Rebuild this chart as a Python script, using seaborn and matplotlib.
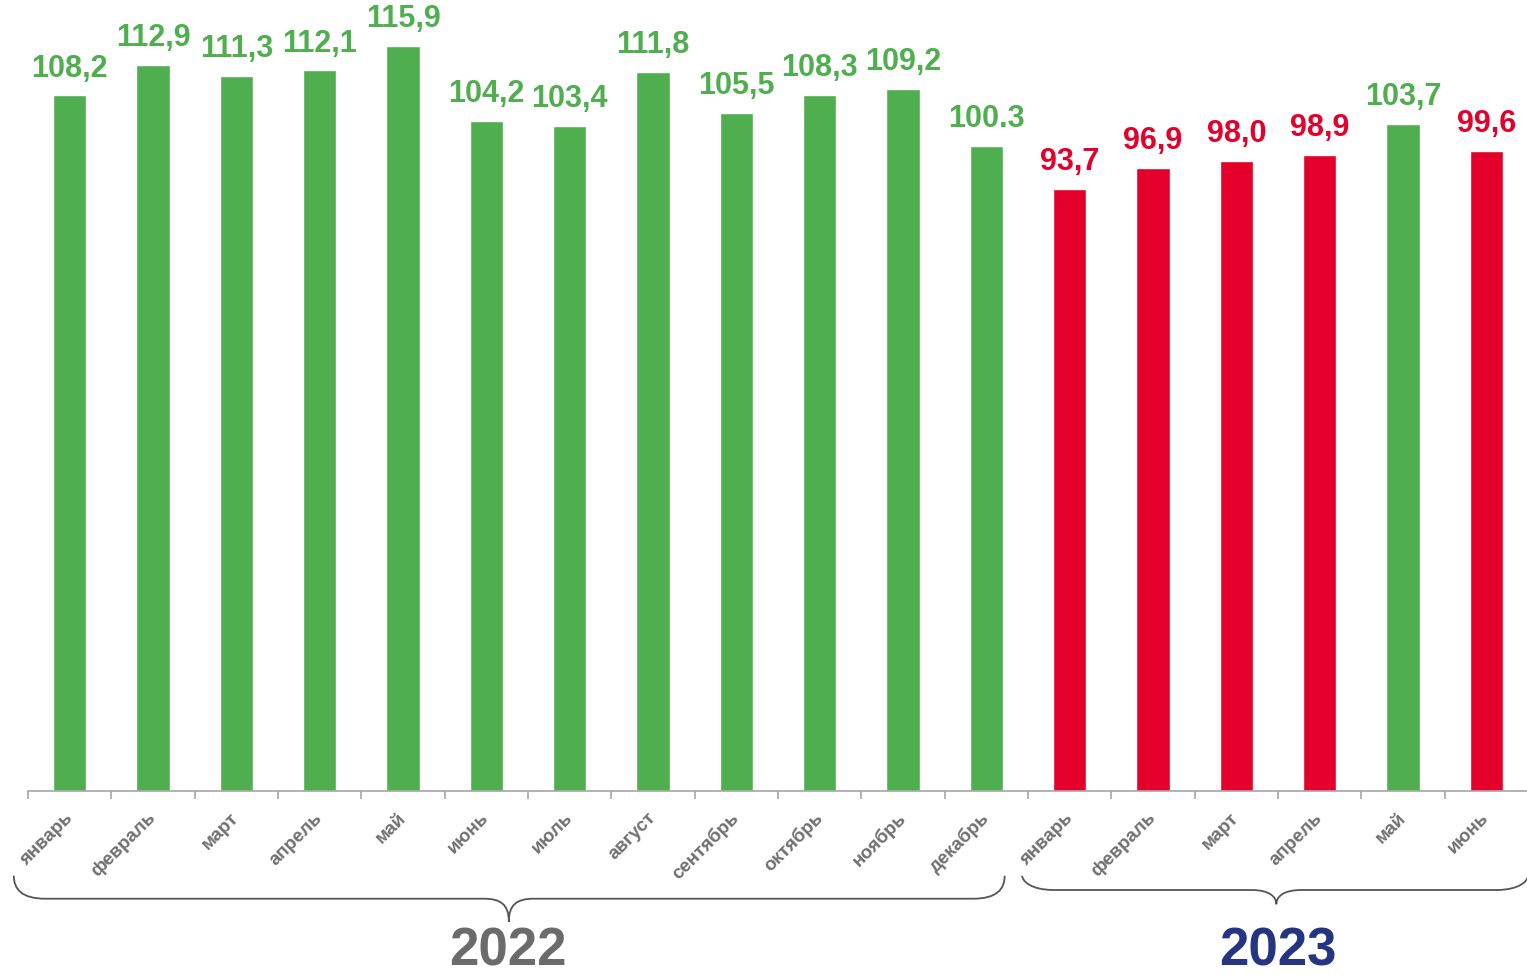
import matplotlib
matplotlib.use("Agg")
import matplotlib.pyplot as plt
import matplotlib.transforms as mtransforms
from matplotlib.path import Path
from matplotlib.patches import PathPatch
import numpy as np
import pandas as pd
import seaborn as sns

months = ["январь", "февраль", "март", "апрель", "май", "июнь", "июль", "август",
          "сентябрь", "октябрь", "ноябрь", "декабрь",
          "январь", "февраль", "март", "апрель", "май", "июнь"]
years = [2022] * 12 + [2023] * 6
values = [108.2, 112.9, 111.3, 112.1, 115.9, 104.2, 103.4, 111.8, 105.5, 108.3, 109.2, 100.3,
          93.7, 96.9, 98.0, 98.9, 103.7, 99.6]
value_labels = ["108,2", "112,9", "111,3", "112,1", "115,9", "104,2", "103,4", "111,8", "105,5",
                "108,3", "109,2", "100.3", "93,7", "96,9", "98,0", "98,9", "103,7", "99,6"]

GREEN = "#4faf4f"
RED = "#e4002b"
GRAY = "#707070"

sns.set_theme(style="white")
plt.rcParams["font.family"] = ["Liberation Sans", "DejaVu Sans"]

df = pd.DataFrame({"month": months, "year": years, "value": values})
df["key"] = df["month"] + " " + df["year"].astype(str)
colors = [GREEN if v >= 100 else RED for v in values]

fig = plt.figure(figsize=(15.27, 9.79), dpi=100)
ax = fig.add_axes([28 / 1527, 187 / 979, 1500 / 1527, 792 / 979])

sns.barplot(data=df, x="key", y="value", hue="key", palette=colors, dodge=False,
            width=0.4, legend=False, ax=ax, saturation=1)

ax.set_xlim(-0.5, len(values) - 0.5)
ax.set_ylim(0, 123.2)
ax.set_xlabel("")
ax.set_ylabel("")
ax.set_yticks([])
for s in ["left", "right", "top"]:
    ax.spines[s].set_visible(False)
ax.spines["bottom"].set_color("#a6a6a6")
ax.spines["bottom"].set_linewidth(1.2)

ax.set_xticks(range(len(values)))
ax.set_xticklabels(months, rotation=45, ha="right", va="center", rotation_mode="anchor",
                   fontsize=13.5, fontweight="bold", color=GRAY)
ax.tick_params(axis="x", which="major", length=0, pad=17)
ax.set_xticks(np.arange(-0.5, len(values), 1), minor=True)
ax.tick_params(axis="x", which="minor", length=6, width=1.2, color="#a6a6a6", bottom=True)

for i, (v, lab) in enumerate(zip(values, value_labels)):
    ax.text(i, v + 2.0, lab, ha="center", va="bottom", fontsize=22, fontweight="bold",
            color=GREEN if v >= 100 else RED)

trans = mtransforms.blended_transform_factory(ax.transData, ax.transAxes)


def brace(x0, x1, xm, ytop, ymid, ytip):
    r = 0.38
    r2 = 0.3
    verts = [(x0, ytop),
             (x0, ymid + 0.012), (x0 + r * 0.25, ymid), (x0 + r, ymid),
             (xm - r2, ymid),
             (xm - r2 * 0.3, ymid), (xm, ymid - 0.008), (xm, ytip),
             (xm, ymid - 0.008), (xm + r2 * 0.3, ymid), (xm + r2, ymid),
             (x1 - r, ymid),
             (x1 - r * 0.25, ymid), (x1, ymid + 0.012), (x1, ytop)]
    codes = [Path.MOVETO,
             Path.CURVE4, Path.CURVE4, Path.CURVE4,
             Path.LINETO,
             Path.CURVE4, Path.CURVE4, Path.CURVE4,
             Path.CURVE4, Path.CURVE4, Path.CURVE4,
             Path.LINETO,
             Path.CURVE4, Path.CURVE4, Path.CURVE4]
    patch = PathPatch(Path(verts, codes), facecolor="none", edgecolor="#555555",
                      linewidth=1.3, transform=trans, clip_on=False)
    ax.add_patch(patch)


brace(-0.67, 11.22, 5.27, -0.107, -0.136, -0.165)
brace(11.43, 17.5, 14.48, -0.107, -0.125, -0.143)

ax.text(5.26, -0.2195, "2022", transform=trans, ha="center", va="baseline",
        fontsize=38, fontweight="bold", color="#6b6b6b")
ax.text(14.5, -0.219, "2023", transform=trans, ha="center", va="baseline",
        fontsize=38, fontweight="bold", color="#253582")

fig.savefig("out.png", dpi=100)
